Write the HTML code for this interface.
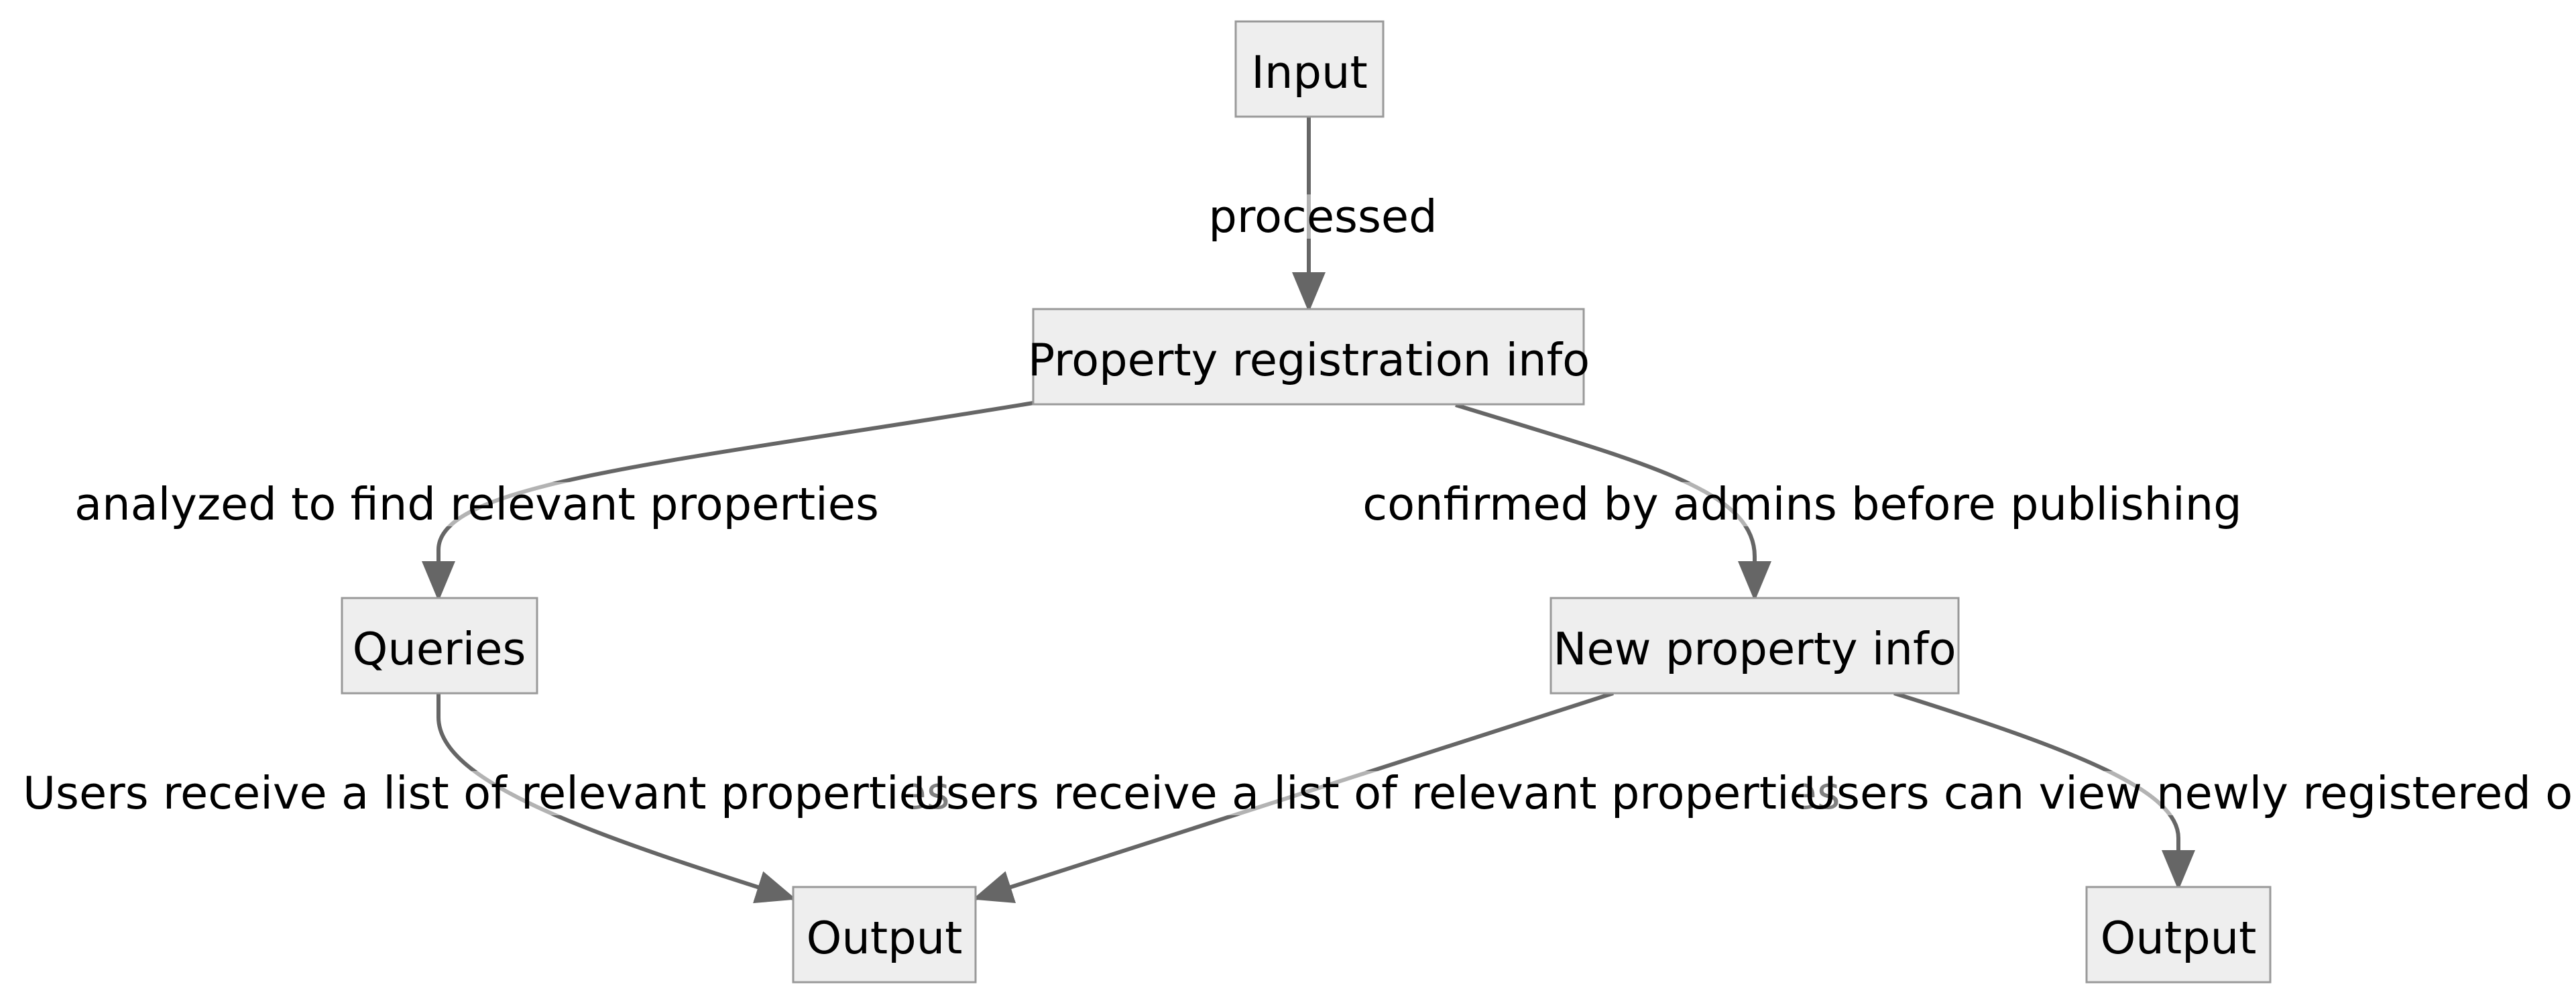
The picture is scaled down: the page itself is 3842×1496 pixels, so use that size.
<!DOCTYPE html>
<html><head><meta charset="utf-8"><style>
html,body{margin:0;padding:0;background:#fff;width:3842px;height:1496px;overflow:hidden}
svg{display:block}
text{font-family:"DejaVu Sans","Liberation Sans",sans-serif;font-size:67px;fill:#000;dominant-baseline:central}
</style></head><body>
<svg width="3842" height="1496" viewBox="0 0 3842 1496" xmlns="http://www.w3.org/2000/svg">
<defs>
<marker id="ah" viewBox="0 0 12 10" refX="11" refY="5" markerWidth="10" markerHeight="8.5" orient="auto">
<path d="M0,0 L12,5 L0,10 z" fill="#666"/>
</marker>
</defs>
<g fill="none" stroke="#666" stroke-width="6">
<path d="M1952,174 L1952,461" marker-end="url(#ah)"/>
<path d="M1541,601 C1000,690 654,720 654,820 L654,892" marker-end="url(#ah)"/>
<path d="M2171,604 C2450,690 2617,730 2617,830 L2617,892" marker-end="url(#ah)"/>
<path d="M654,1034 L654,1070 C654,1170 900,1250 1183,1340" marker-end="url(#ah)"/>
<path d="M2406,1034 L1455,1340" marker-end="url(#ah)"/>
<path d="M2825,1034 C3100,1120 3249,1180 3249,1250 L3249,1323" marker-end="url(#ah)"/>
</g>
<g fill="#eee" stroke="#999" stroke-width="3">
<rect x="1843" y="32" width="220" height="142"/>
<rect x="1541" y="461" width="821" height="142"/>
<rect x="510" y="892" width="291" height="142"/>
<rect x="2313" y="892" width="608" height="142"/>
<rect x="1183" y="1323" width="272" height="142"/>
<rect x="3112" y="1323" width="274" height="142"/>
</g>
<g text-anchor="middle">
<text x="1953" y="108">Input</text>
<text x="1952" y="537">Property registration info</text>
<text x="655" y="968">Queries</text>
<text x="2617" y="968">New property info</text>
<text x="1319" y="1399">Output</text>
<text x="3249" y="1399">Output</text>
</g>
<g>
<rect x="1806" y="290" width="336" height="66" fill="#fff" opacity="0.5"/>
<text x="1973" y="323" text-anchor="middle">processed</text>
<rect x="115" y="719" width="1195" height="66" fill="#fff" opacity="0.5"/>
<text x="711" y="752" text-anchor="middle">analyzed to find relevant properties</text>
<rect x="2035" y="719" width="1305" height="66" fill="#fff" opacity="0.5"/>
<text x="2688" y="752" text-anchor="middle">confirmed by admins before publishing</text>
<rect x="34" y="1150" width="1340" height="66" fill="#fff" opacity="0.5"/>
<text x="34" y="1183">Users receive a list of relevant properties</text>
<rect x="1362" y="1150" width="1340" height="66" fill="#fff" opacity="0.5"/>
<text x="1362" y="1183">Users receive a list of relevant properties</text>
<rect x="2690" y="1150" width="1152" height="66" fill="#fff" opacity="0.5"/>
<text x="2690" y="1183">Users can view newly registered on</text>
</g>
</svg>
</body></html>
